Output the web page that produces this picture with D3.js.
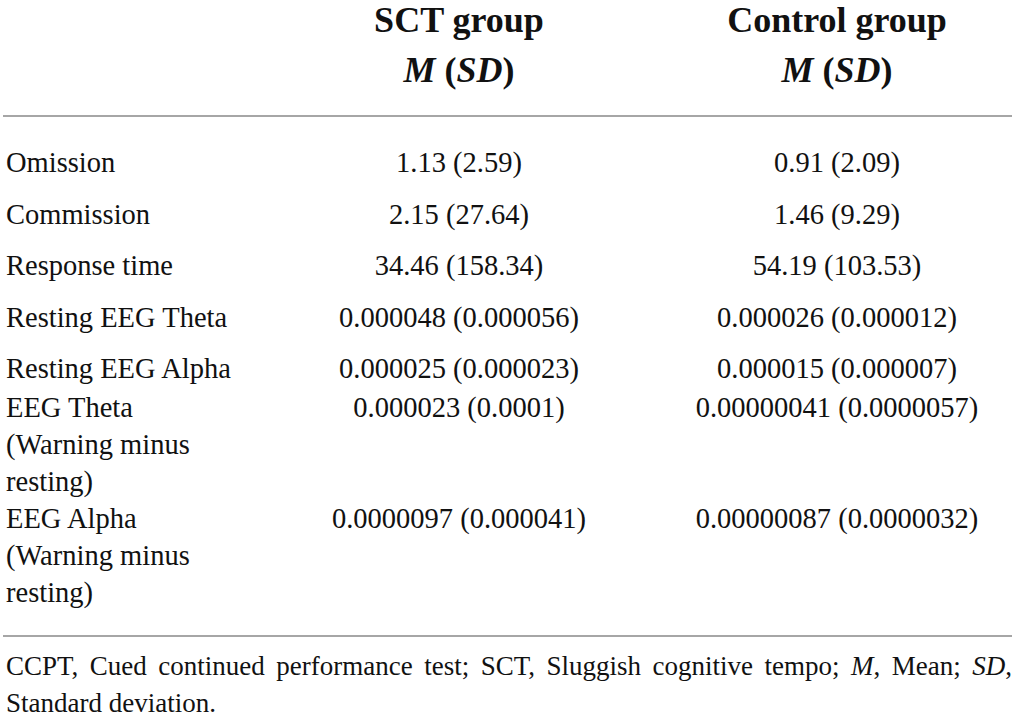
<!DOCTYPE html>
<html>
<head>
<meta charset="utf-8">
<script src="https://cdn.jsdelivr.net/npm/d3@7"></script>
<style>
  html, body { margin: 0; padding: 0; background: #fff; }
  svg { display: block; }
  text { font-family: "Liberation Serif", "Times New Roman", serif; fill: #111; }
</style>
</head>
<body>
<svg id="table"></svg>
<script>
// Table content
const groups = ["SCT group", "Control group"];
const measures = [
    ["Omission"],
    ["Commission"],
    ["Response time"],
    ["Resting EEG Theta"],
    ["Resting EEG Alpha"],
    ["EEG Theta", "(Warning minus", "resting)"],
    ["EEG Alpha", "(Warning minus", "resting)"]
];
const sctValues = [
    "1.13 (2.59)", "2.15 (27.64)", "34.46 (158.34)",
    "0.000048 (0.000056)", "0.000025 (0.000023)",
    "0.000023 (0.0001)", "0.0000097 (0.000041)"
];
const controlValues = [
    "0.91 (2.09)", "1.46 (9.29)", "54.19 (103.53)",
    "0.000026 (0.000012)", "0.000015 (0.000007)",
    "0.00000041 (0.0000057)", "0.00000087 (0.0000032)"
];
// footnote words, [text, italic]
const footLine1 = [
    [["CCPT,", 0]], [["Cued", 0]], [["continued", 0]], [["performance", 0]], [["test;", 0]],
    [["SCT,", 0]], [["Sluggish", 0]], [["cognitive", 0]], [["tempo;", 0]],
    [["M", 1], [",", 0]], [["Mean;", 0]], [["SD", 1], [",", 0]]
];
const footLine2 = "Standard deviation.";

const width = 1017, height = 721;
const left = 3, right = 1012;

const svg = d3.select("#table")
    .attr("width", width)
    .attr("height", height)
    .attr("viewBox", [0, 0, width, height]);

// column centres
const x = d3.scaleOrdinal().domain(groups).range([459, 837]);

// header
const head = svg.append("g").attr("class", "header")
    .style("font-weight", "bold")
    .style("font-size", "36px");
groups.forEach(g => {
    head.append("text")
        .attr("x", x(g)).attr("y", 32)
        .attr("text-anchor", "middle")
        .text(g);
    const sub = head.append("text")
        .attr("x", x(g)).attr("y", 82)
        .attr("text-anchor", "middle");
    sub.append("tspan").style("font-style", "italic").text("M");
    sub.append("tspan").text(" (");
    sub.append("tspan").style("font-style", "italic").text("SD");
    sub.append("tspan").text(")");
});

// rules
svg.selectAll("line.rule")
    .data([116, 636])
    .join("line")
    .attr("class", "rule")
    .attr("x1", left).attr("x2", right)
    .attr("y1", d => d).attr("y2", d => d)
    .attr("stroke", "#a6a6a6")
    .attr("stroke-width", 2);

// row baselines: single rows are padded, wrapped rows are tight
const lineH = 37;
let y = 172;
const baselines = measures.map((m, i) => {
    if (i > 0) {
        const prev = measures[i - 1];
        if (prev.length > 1) y += prev.length * lineH;
        else if (m.length > 1) y += 39;
        else y += 51.5;
    }
    return y;
});

const body = svg.append("g").attr("class", "body").style("font-size", "28.5px");
const rows = body.selectAll("g.row")
    .data(measures.map((m, i) => ({ label: m, sct: sctValues[i], ctl: controlValues[i], y: baselines[i] })))
    .join("g")
    .attr("class", "row")
    .attr("transform", d => `translate(0,${d.y})`);

rows.append("text")
    .attr("x", 6)
    .selectAll("tspan")
    .data(d => d.label)
    .join("tspan")
    .attr("x", 6)
    .attr("dy", (d, i) => i === 0 ? 0 : lineH)
    .text(d => d);

rows.append("text")
    .attr("x", x(groups[0]))
    .attr("text-anchor", "middle")
    .text(d => d.sct);

rows.append("text")
    .attr("x", x(groups[1]))
    .attr("text-anchor", "middle")
    .text(d => d.ctl);

// footnote, first line justified across the table width
const foot = svg.append("g").attr("class", "foot").style("font-size", "27px");
const words = foot.selectAll("text.w")
    .data(footLine1)
    .join("text")
    .attr("class", "w")
    .attr("y", 675);
words.selectAll("tspan")
    .data(d => d)
    .join("tspan")
    .style("font-style", d => d[1] ? "italic" : "normal")
    .text(d => d[0]);
const widths = [];
words.each(function() { widths.push(this.getComputedTextLength()); });
const gap = (right - 6 - d3.sum(widths)) / (widths.length - 1);
let cx = 6;
words.attr("x", (d, i) => { const v = cx; cx += widths[i] + gap; return v; });

foot.append("text")
    .attr("x", 6).attr("y", 712)
    .text(footLine2);
</script>
</body>
</html>
